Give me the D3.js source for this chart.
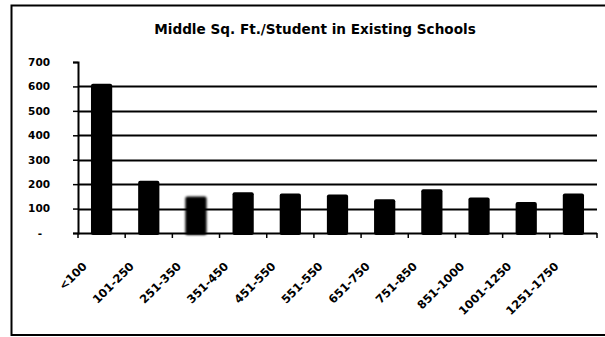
<!DOCTYPE html>
<html>
<head>
<meta charset="utf-8">
<script src="https://cdn.jsdelivr.net/npm/d3@7"></script>
<style>
  html, body { margin: 0; padding: 0; background: #fff; }
  svg { display: block; }
  text { font-family: "DejaVu Sans", sans-serif; font-weight: bold; fill: #000; }
</style>
</head>
<body>
<svg id="chart" width="605" height="337"></svg>
<script>
// Square feet per student, middle schools, by school size band
const categories = ["<100", "101-250", "251-350", "351-450", "451-550", "551-550", "651-750", "751-850", "851-1000", "1001-1250", "1251-1750"];
const sqFtPerStudent = [611, 214, 149, 167, 162, 158, 138, 179, 145, 127, 162];
const yTicks = [0, 100, 200, 300, 400, 500, 600, 700];
const yTickLabels = ["-", "100", "200", "300", "400", "500", "600", "700"];
const chartTitle = "Middle Sq. Ft./Student in Existing Schools";

const svg = d3.select("#chart");
const m = { left: 78, right: 597, top: 62, bottom: 233 };

// outer frame
svg.append("rect")
  .attr("x", 11.5).attr("y", 5.5)
  .attr("width", 620).attr("height", 329.5)
  .attr("fill", "none").attr("stroke", "#000").attr("stroke-width", 2);

svg.append("text")
  .attr("x", 315).attr("y", 34)
  .attr("text-anchor", "middle")
  .attr("font-size", 13.6)
  .text(chartTitle);

const x = d3.scaleBand().domain(categories).range([m.left, m.right]).paddingInner(0.55).paddingOuter(0.275);
const xEdges = d3.scaleBand().domain(categories).range([m.left, m.right]).padding(0);
const y = d3.scaleLinear().domain([0, 700]).range([m.bottom, m.top]);

// horizontal gridlines
svg.append("g")
  .selectAll("line")
  .data(yTicks.filter(v => v > 0 && v < 700))
  .join("line")
  .attr("x1", m.left).attr("x2", m.right)
  .attr("y1", d => Math.round(y(d)) + 0.5).attr("y2", d => Math.round(y(d)) + 0.5)
  .attr("stroke", "#000").attr("stroke-width", 2);

// y axis
const yAxis = d3.axisLeft(y)
  .tickValues(yTicks)
  .tickSize(5)
  .tickPadding(23)
  .tickFormat((d, i) => yTickLabels[i]);
const gy = svg.append("g").attr("transform", `translate(${m.left},0)`).call(yAxis);
gy.select(".domain").attr("stroke", "#000").attr("stroke-width", 2);
gy.selectAll(".tick line").attr("stroke", "#000").attr("stroke-width", 1.5);
gy.selectAll(".tick text")
  .attr("font-size", 10.5)
  .attr("font-family", "'DejaVu Sans Condensed', 'DejaVu Sans', sans-serif")
  .attr("font-weight", "bold")
  .attr("text-anchor", (d) => d === 0 ? "middle" : "end")
  .attr("dx", (d) => d === 0 ? -10 : 0);

// bars
const defs = svg.append("defs");
defs.append("filter").attr("id", "soft").append("feGaussianBlur").attr("stdDeviation", 0.9);

svg.append("g")
  .selectAll("rect")
  .data(sqFtPerStudent)
  .join("rect")
  .attr("x", (d, i) => x(categories[i]))
  .attr("width", x.bandwidth())
  .attr("y", d => y(d))
  .attr("height", d => y(0) - y(d) + 2)
  .attr("rx", 2)
  .attr("fill", "#000")
  .attr("filter", (d, i) => i === 2 ? "url(#soft)" : null);

// x axis with ticks at category edges
svg.append("line")
  .attr("x1", m.left).attr("x2", m.right)
  .attr("y1", m.bottom + 0.5).attr("y2", m.bottom + 0.5)
  .attr("stroke", "#000").attr("stroke-width", 2);
const edges = categories.map(c => xEdges(c)).concat([m.right]);
svg.append("g")
  .selectAll("line")
  .data(edges)
  .join("line")
  .attr("x1", d => d).attr("x2", d => d)
  .attr("y1", m.bottom).attr("y2", m.bottom + 5)
  .attr("stroke", "#000").attr("stroke-width", 1.5);

// rotated category labels
svg.append("g")
  .selectAll("text")
  .data(categories)
  .join("text")
  .attr("transform", c => `translate(${x(c) + x.bandwidth() / 2 - 14},${m.bottom + 34}) rotate(-45)`)
  .attr("text-anchor", "end")
  .attr("font-size", 11.5)
  .text(c => c);
</script>
</body>
</html>
